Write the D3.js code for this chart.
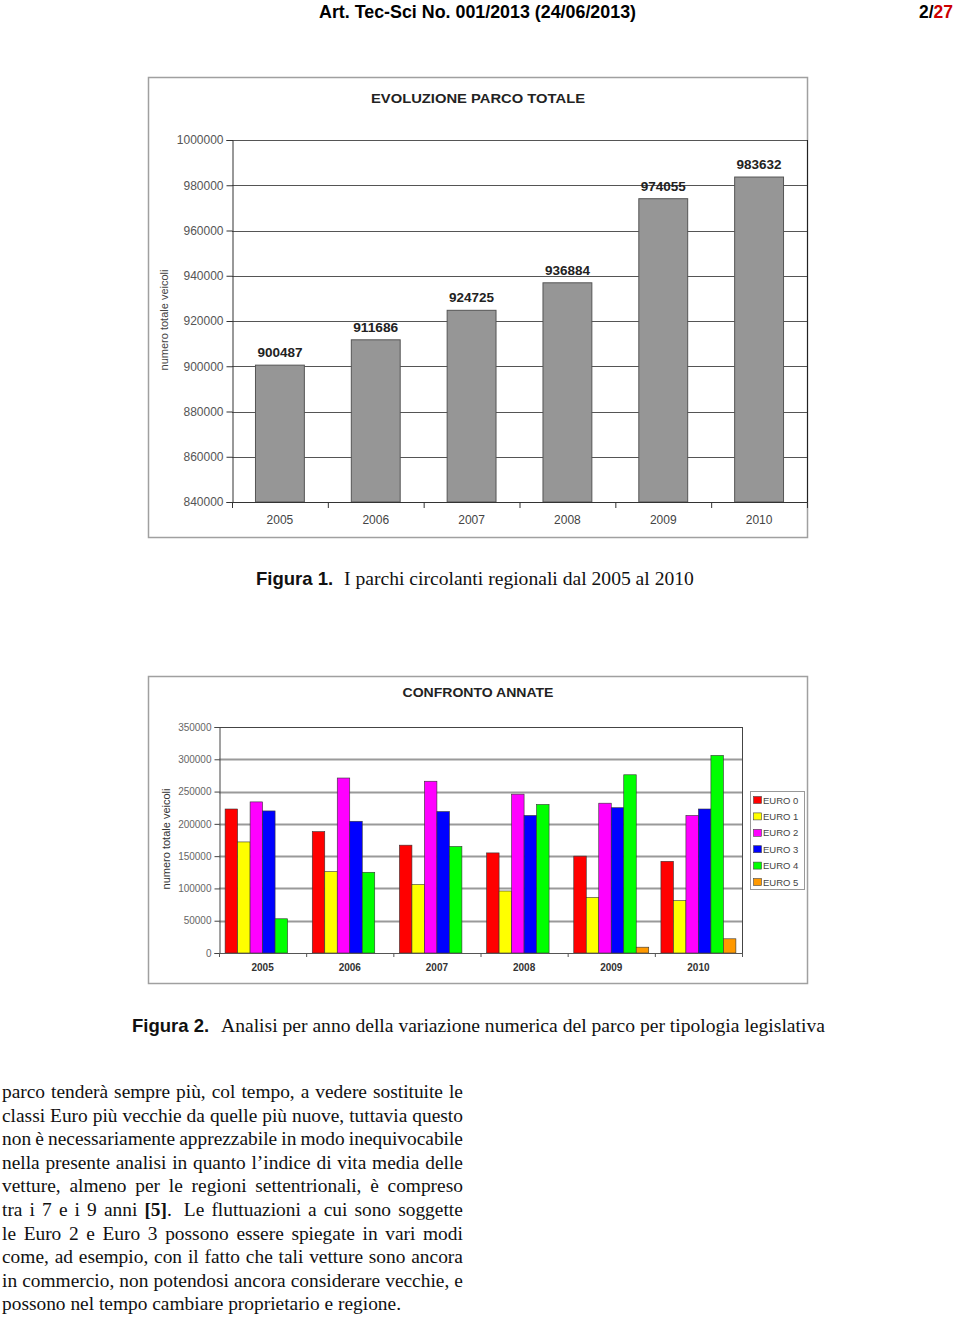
<!DOCTYPE html>
<html>
<head>
<meta charset="utf-8">
<script src="https://cdn.jsdelivr.net/npm/d3@7/dist/d3.min.js"></script>
<style>
  html, body { margin: 0; padding: 0; background: #fff; }
  body { width: 960px; height: 1317px; position: relative; overflow: hidden; }
  svg { position: absolute; left: 0; top: 0; }
  .body-text { position: absolute; left: 2px; width: 461px; font-family: "Liberation Serif", "Times New Roman", serif;
    font-size: 19.4px; color: #111; }
  .line { height: 23.6px; line-height: 23.6px; display: flex; justify-content: space-between; white-space: nowrap; }
  .line.last { display: block; }
</style>
</head>
<body>
<svg id="page" width="960" height="1317"></svg>
<div class="body-text" id="bodytext" style="top:1080px"></div>
<script>
// ---------- DATA ----------
const years = ["2005", "2006", "2007", "2008", "2009", "2010"];
const totals = [900487, 911686, 924725, 936884, 974055, 983632];
const totalTicks = [840000, 860000, 880000, 900000, 920000, 940000, 960000, 980000, 1000000];

const euroClasses = ["EURO 0", "EURO 1", "EURO 2", "EURO 3", "EURO 4", "EURO 5"];
const euro0 = [223000, 188000, 167000, 155000, 150000, 142000];
const euro1 = [172000, 126000, 106000, 96000, 86000, 81000];
const euro2 = [234000, 271000, 266000, 246000, 232000, 213000];
const euro3 = [220000, 204000, 219000, 213000, 225000, 223000];
const euro4 = [53000, 125000, 165000, 230000, 276000, 306000];
const euro5 = [0, 0, 0, 0, 9000, 22000];
const euroTicks = [0, 50000, 100000, 150000, 200000, 250000, 300000, 350000];
const euroColors = ["#ff0000", "#ffff00", "#ff00ff", "#0000ff", "#00ff00", "#ff9900"];

const bodyLines = [
  "parco tenderà sempre più, col tempo, a vedere sostituite le",
  "classi Euro più vecchie da quelle più nuove, tuttavia questo",
  "non è necessariamente apprezzabile in modo inequivocabile",
  "nella presente analisi in quanto l’indice di vita media delle",
  "vetture, almeno per le regioni settentrionali, è compreso",
  "tra i 7 e i 9 anni <b>[5]</b>.&nbsp; Le fluttuazioni a cui sono soggette",
  "le Euro 2 e Euro 3 possono essere spiegate in vari modi",
  "come, ad esempio, con il fatto che tali vetture sono ancora",
  "in commercio, non potendosi ancora considerare vecchie, e",
  "possono nel tempo cambiare proprietario e regione."
];

// ---------- PAGE ----------
const svg = d3.select("#page");
const sans = "'Liberation Sans', Arial, sans-serif";
const serif = "'Liberation Serif', 'Times New Roman', serif";

// header
svg.append("text").attr("x", 319).attr("y", 18).attr("font-family", sans).attr("font-weight", "bold")
  .attr("font-size", 18).attr("fill", "#000").attr("textLength", 317).attr("lengthAdjust", "spacingAndGlyphs")
  .text("Art. Tec-Sci No. 001/2013 (24/06/2013)");
const pg = svg.append("text").attr("x", 919).attr("y", 18).attr("font-family", sans).attr("font-weight", "bold")
  .attr("font-size", 18).attr("textLength", 34).attr("lengthAdjust", "spacingAndGlyphs");
pg.append("tspan").attr("fill", "#000").text("2/");
pg.append("tspan").attr("fill", "#cc0000").text("27");

// ---------- CHART 1 ----------
{
  const g = svg.append("g");
  g.append("rect").attr("x", 148.5).attr("y", 77.5).attr("width", 659).attr("height", 460)
    .attr("fill", "#fff").attr("stroke", "#a0a0a0").attr("stroke-width", 1.5);
  g.append("text").attr("x", 478).attr("y", 103).attr("text-anchor", "middle")
    .attr("font-family", sans).attr("font-weight", "bold").attr("font-size", 13.5).attr("fill", "#222")
    .attr("textLength", 214).attr("lengthAdjust", "spacingAndGlyphs")
    .text("EVOLUZIONE PARCO TOTALE");

  const x0 = 232, x1 = 807, yTop = 140, yBot = 502;
  const y = d3.scaleLinear().domain([840000, 1000000]).range([yBot, yTop]);
  const x = d3.scaleBand().domain(years).range([x0, x1]).paddingInner(0.49).paddingOuter(0.245);

  // gridlines
  g.append("g").selectAll("line").data(totalTicks.slice(1)).join("line")
    .attr("x1", x0).attr("x2", x1).attr("y1", d => Math.round(y(d)) + 0.5).attr("y2", d => Math.round(y(d)) + 0.5)
    .attr("stroke", "#555").attr("stroke-width", 1.2);
  g.append("line").attr("x1", x1 + 0.5).attr("x2", x1 + 0.5).attr("y1", yTop).attr("y2", yBot).attr("stroke", "#222");

  // bars
  g.append("g").selectAll("rect").data(years).join("rect")
    .attr("x", d => x(d)).attr("width", x.bandwidth())
    .attr("y", (d, i) => y(totals[i])).attr("height", (d, i) => yBot - y(totals[i]))
    .attr("fill", "#969696").attr("stroke", "#555").attr("stroke-width", 1);

  // value labels
  g.append("g").selectAll("text").data(years).join("text")
    .attr("x", d => x(d) + x.bandwidth() / 2).attr("y", (d, i) => y(totals[i]) - 8)
    .attr("text-anchor", "middle").attr("font-family", sans).attr("font-weight", "bold").attr("font-size", 13)
    .attr("fill", "#222").attr("textLength", 45).attr("lengthAdjust", "spacingAndGlyphs")
    .text((d, i) => totals[i]);

  // left axis
  const ax = g.append("g").attr("transform", `translate(${x0 + 0.5},0)`)
    .call(d3.axisLeft(y).tickValues(totalTicks).tickSize(6).tickPadding(3).tickFormat(d3.format("d")));
  ax.select(".domain").attr("stroke", "#333");
  ax.selectAll(".tick line").attr("stroke", "#333");
  ax.selectAll(".tick text").attr("font-family", sans).attr("font-size", 12).attr("fill", "#555");

  // bottom axis
  g.append("line").attr("x1", x0).attr("x2", x1 + 1).attr("y1", yBot + 0.5).attr("y2", yBot + 0.5).attr("stroke", "#333");
  const step = x.step();
  g.append("g").selectAll("line").data(d3.range(years.length + 1)).join("line")
    .attr("x1", i => x0 + 0.5 + i * step).attr("x2", i => x0 + 0.5 + i * step)
    .attr("y1", yBot).attr("y2", yBot + 6).attr("stroke", "#333");
  g.append("g").selectAll("text").data(years).join("text")
    .attr("x", d => x(d) + x.bandwidth() / 2).attr("y", 524).attr("text-anchor", "middle")
    .attr("font-family", sans).attr("font-size", 12).attr("fill", "#444").text(d => d);

  // y title
  g.append("text").attr("transform", "translate(168,320) rotate(-90)").attr("text-anchor", "middle")
    .attr("font-family", sans).attr("font-size", 11).attr("fill", "#444").text("numero totale veicoli");

  // caption
  const cap = svg.append("text").attr("x", 256).attr("y", 585).attr("fill", "#111");
  cap.append("tspan").attr("font-family", sans).attr("font-weight", "bold").attr("font-size", 18.5).text("Figura 1.");
  cap.append("tspan").attr("font-family", serif).attr("font-size", 19.6).attr("x", 344)
    .text("I parchi circolanti regionali dal 2005 al 2010");
}

// ---------- CHART 2 ----------
{
  const g = svg.append("g");
  g.append("rect").attr("x", 148.5).attr("y", 676.5).attr("width", 659).attr("height", 307)
    .attr("fill", "#fff").attr("stroke", "#a0a0a0").attr("stroke-width", 1.5);
  g.append("text").attr("x", 478).attr("y", 697).attr("text-anchor", "middle")
    .attr("font-family", sans).attr("font-weight", "bold").attr("font-size", 12.5).attr("fill", "#222")
    .attr("textLength", 151).attr("lengthAdjust", "spacingAndGlyphs")
    .text("CONFRONTO ANNATE");

  const x0 = 219, x1 = 742, yTop = 727, yBot = 953;
  const y = d3.scaleLinear().domain([0, 350000]).range([yBot, yTop]);
  const x = d3.scaleBand().domain(years).range([x0, x1]).paddingInner(0.14).paddingOuter(0.07);
  const xs = d3.scaleBand().domain(euroClasses).range([0, x.bandwidth()]);
  const series = [euro0, euro1, euro2, euro3, euro4, euro5];

  // gridlines
  g.append("g").selectAll("line").data(euroTicks.slice(1, -1)).join("line")
    .attr("x1", x0).attr("x2", x1).attr("y1", d => Math.round(y(d)) + 0.5).attr("y2", d => Math.round(y(d)) + 0.5)
    .attr("stroke", "#9a9a9a").attr("stroke-width", 1.8);
  g.append("line").attr("x1", x0).attr("x2", x1).attr("y1", yTop + 0.5).attr("y2", yTop + 0.5).attr("stroke", "#444");
  g.append("line").attr("x1", x1 + 0.5).attr("x2", x1 + 0.5).attr("y1", yTop).attr("y2", yBot).attr("stroke", "#444");

  // bars
  const grp = g.append("g").selectAll("g").data(years).join("g")
    .attr("transform", d => `translate(${x(d)},0)`);
  grp.selectAll("rect").data((d, yi) => euroClasses.map((c, si) => ({ c, si, v: series[si][yi] })).filter(o => o.v > 0))
    .join("rect")
    .attr("x", o => xs(o.c)).attr("width", xs.bandwidth())
    .attr("y", o => y(o.v)).attr("height", o => yBot - y(o.v))
    .attr("fill", o => euroColors[o.si]).attr("stroke", "#333").attr("stroke-width", 0.6);

  // left axis
  const ax = g.append("g").attr("transform", `translate(${x0 + 0.5},0)`)
    .call(d3.axisLeft(y).tickValues(euroTicks).tickSize(5).tickPadding(3).tickFormat(d3.format("d")));
  ax.select(".domain").attr("stroke", "#444");
  ax.selectAll(".tick line").attr("stroke", "#444");
  ax.selectAll(".tick text").attr("font-family", sans).attr("font-size", 10).attr("fill", "#666");

  // bottom axis
  g.append("line").attr("x1", x0).attr("x2", x1 + 1).attr("y1", yBot + 0.5).attr("y2", yBot + 0.5).attr("stroke", "#555");
  const step = x.step();
  g.append("g").selectAll("line").data(d3.range(years.length + 1)).join("line")
    .attr("x1", i => x0 + 0.5 + i * step).attr("x2", i => x0 + 0.5 + i * step)
    .attr("y1", yBot).attr("y2", yBot + 4).attr("stroke", "#555");
  g.append("g").selectAll("text").data(years).join("text")
    .attr("x", d => x(d) + x.bandwidth() / 2).attr("y", 971).attr("text-anchor", "middle")
    .attr("font-family", sans).attr("font-weight", "bold").attr("font-size", 10).attr("fill", "#333").text(d => d);

  // y title
  g.append("text").attr("transform", "translate(170,839) rotate(-90)").attr("text-anchor", "middle")
    .attr("font-family", sans).attr("font-size", 11).attr("fill", "#333").text("numero totale veicoli");

  // legend
  const lg = g.append("g");
  lg.append("rect").attr("x", 750.5).attr("y", 791.5).attr("width", 54).attr("height", 98)
    .attr("fill", "#fff").attr("stroke", "#999");
  const li = lg.selectAll("g").data(euroClasses).join("g")
    .attr("transform", (d, i) => `translate(753,${800 + i * 16.4})`);
  li.append("rect").attr("x", 0.5).attr("y", -3.5).attr("width", 8).attr("height", 7)
    .attr("fill", (d, i) => euroColors[i]).attr("stroke", "#444").attr("stroke-width", 0.6);
  li.append("text").attr("x", 10).attr("y", 3.5).attr("font-family", sans).attr("font-size", 9.5)
    .attr("fill", "#444").text(d => d);

  // caption
  const cap = svg.append("text").attr("x", 132).attr("y", 1032).attr("fill", "#111");
  cap.append("tspan").attr("font-family", sans).attr("font-weight", "bold").attr("font-size", 18.5).text("Figura 2.");
  cap.append("tspan").attr("font-family", serif).attr("font-size", 19.6).attr("x", 221)
    .text("Analisi per anno della variazione numerica del parco per tipologia legislativa");
}

// ---------- BODY TEXT ----------
const lines = d3.select("#bodytext").selectAll("div").data(bodyLines).join("div")
  .attr("class", (d, i) => i === bodyLines.length - 1 ? "line last" : "line");
lines.each(function (d, i) {
  const el = d3.select(this);
  if (i === bodyLines.length - 1) { el.html(d); return; }
  el.selectAll("span").data(d.split(" ")).join("span").html(w => w);
});
</script>
</body>
</html>
